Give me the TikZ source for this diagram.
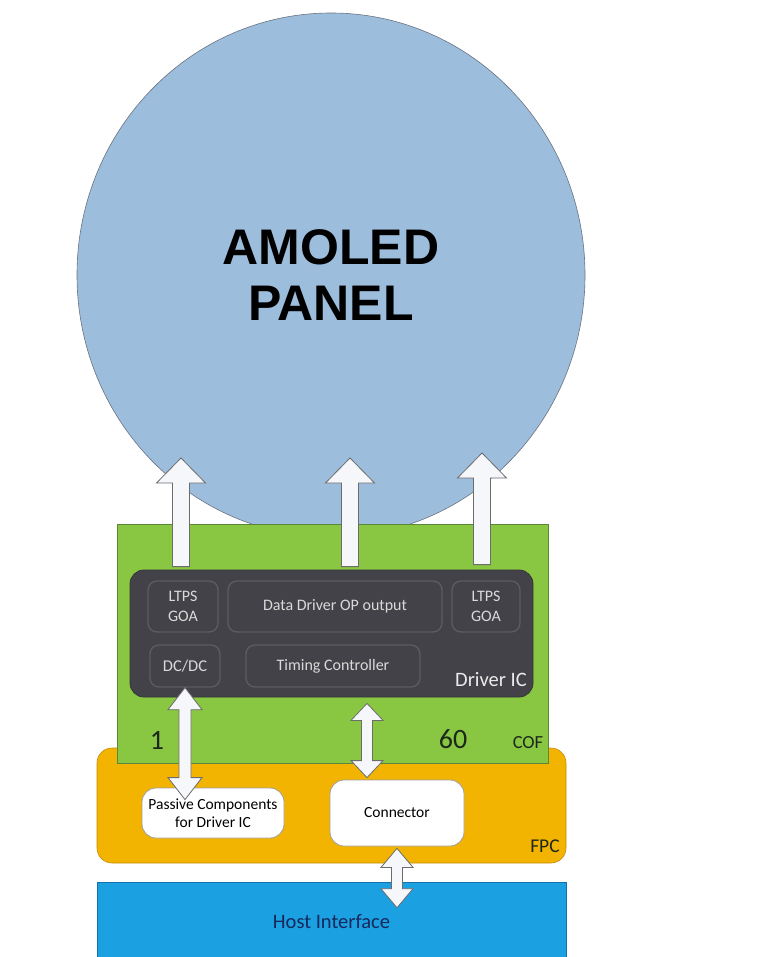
\documentclass[tikz,border=0pt]{standalone}
\usepackage{fontspec}
\setmainfont{Carlito}
\newfontfamily\panelfont{Liberation Sans}
\usetikzlibrary{positioning,shapes.geometric,calc}

\definecolor{panelblue}{RGB}{157,189,220}
\definecolor{panelline}{RGB}{105,115,128}
\definecolor{cofgreen}{RGB}{137,199,66}
\definecolor{cofline}{RGB}{92,135,58}
\definecolor{fpcorange}{RGB}{242,180,0}
\definecolor{fpcline}{RGB}{196,140,10}
\definecolor{hostblue}{RGB}{27,160,225}
\definecolor{hostline}{RGB}{22,112,170}
\definecolor{hosttext}{RGB}{22,40,92}
\definecolor{icgrey}{RGB}{66,66,72}
\definecolor{icline}{RGB}{92,92,98}
\definecolor{iclabel}{RGB}{218,218,218}
\definecolor{labeldark}{RGB}{28,40,28}
\definecolor{arrowwhite}{RGB}{246,247,251}

% vertical block arrow: base, tip
\newcommand{\blockup}[2]{%
  \draw[blockarrow] let \p1=(#1), \p2=(#2) in
    (\x1-8.5pt,\y1) -- (\x1-8.5pt,\y2-25pt) -- (\x1-24.5pt,\y2-25pt) -- (\x1,\y2)
    -- (\x1+24.5pt,\y2-25pt) -- (\x1+8.5pt,\y2-25pt) -- (\x1+8.5pt,\y1) -- cycle;}
% vertical double block arrow: top tip, bottom tip, half shaft, half head, head length
\newcommand{\blockboth}[5]{%
  \draw[blockarrow] let \p1=(#1), \p2=(#2) in
    (\x1,\y1) -- (\x1+#4,\y1-#5) -- (\x1+#3,\y1-#5) -- (\x1+#3,\y2+#5)
    -- (\x1+#4,\y2+#5) -- (\x1,\y2) -- (\x1-#4,\y2+#5) -- (\x1-#3,\y2+#5)
    -- (\x1-#3,\y1-#5) -- (\x1-#4,\y1-#5) -- cycle;}

\begin{document}
\begin{tikzpicture}[
    x=1pt, y=-1pt,
    every node/.style={font=\fontsize{15.5}{18}\selectfont},
    icbox/.style={rounded corners=9pt, fill=icgrey, draw=icline, line width=1.3pt,
        text=iclabel, align=center, inner sep=0pt},
    partbox/.style={rounded corners=14pt, fill=white, draw=gray!75, line width=0.8pt,
        align=center, inner sep=0pt},
    boardlabel/.style={text=labeldark, inner sep=0pt},
    blockarrow/.style={fill=arrowwhite, draw=gray!85!black, line width=0.8pt}
]
\useasboundingbox (0,0) rectangle (767,957);

% Panel
\node[ellipse, fill=panelblue, draw=panelline, line width=0.6pt,
      minimum width=508pt, minimum height=524pt, align=center,
      font=\panelfont\bfseries\fontsize{50}{56}\selectfont] (panel) at (331,275) {AMOLED\\PANEL};

% FPC and host
\node[rounded corners=15pt, fill=fpcorange, draw=fpcline, line width=0.6pt,
      minimum width=469pt, minimum height=115pt] (fpc) at (331.5,805.5) {};
\node[fill=hostblue, draw=hostline, line width=0.6pt, minimum width=469pt,
      minimum height=80pt, text=hosttext, font=\fontsize{20.5}{24}\selectfont] (host) at (331.5,922) {Host Interface};

% COF
\node[fill=cofgreen, draw=cofline, line width=0.6pt,
      minimum width=431pt, minimum height=239pt] (cof) at (332.5,643.5) {};

% Driver IC
\node[rounded corners=14pt, fill=icgrey, draw=icgrey!80!black, line width=0.8pt,
      minimum width=403pt, minimum height=127pt] (ic) at (331.5,633.5) {};
\node[icbox, minimum width=70pt, minimum height=51pt, font=\fontsize{16}{20}\selectfont] (ltpsL) at (183,606.5) {LTPS\\GOA};
\node[icbox, minimum width=214pt, minimum height=51pt, font=\fontsize{16}{18}\selectfont] (ddop) at (335,606.5) {Data Driver OP output};
\node[icbox, minimum width=68pt, minimum height=51pt, font=\fontsize{16}{20}\selectfont] (ltpsR) at (486,606.5) {LTPS\\GOA};
\node[icbox, minimum width=70pt, minimum height=42pt, font=\fontsize{16.5}{18}\selectfont] (dcdc) at (185,666) {DC/DC};
\node[icbox, minimum width=174pt, minimum height=42pt, font=\fontsize{16}{18}\selectfont] (tcon) at (333,666) {Timing Controller};
\node[text=white!92!black, inner sep=0pt, font=\fontsize{20.5}{24}\selectfont] (iclabel) at (491,680) {Driver IC};

% COF labels
\node[boardlabel, font=\fontsize{28}{30}\selectfont] (pinA) at (157,740) {1};
\node[boardlabel, font=\fontsize{28}{30}\selectfont] (pinB) at (453,739) {60};
\node[boardlabel, font=\fontsize{18.5}{20}\selectfont] (coflabel) at (528,743) {COF};

% FPC parts
\node[partbox, minimum width=142pt, minimum height=50pt] (passive) at (213,813) {Passive Components\\for Driver IC};
\node[partbox, minimum width=134pt, minimum height=66pt] (conn) at (397,813) {Connector};
\node[boardlabel, font=\fontsize{19.5}{22}\selectfont] (fpclabel) at (545,846) {FPC};

% Arrows to panel
\coordinate (tipL) at (181,458);
\coordinate (tipM) at (350,458);
\coordinate (tipR) at (482,453);
\blockup{[yshift=3pt]tipL |- ic.north}{tipL}
\blockup{[yshift=3pt]tipM |- ic.north}{tipM}
\blockup{[yshift=5pt]tipR |- ic.north}{tipR}

% Arrows to FPC and host
\coordinate (dcTop) at (dcdc.south);
\coordinate (dcBot) at ([yshift=-12pt]dcdc.south |- passive.north);
\coordinate (icTop) at ([yshift=-6pt]367,0 |- ic.south);
\coordinate (icBot) at ([yshift=2pt]367,0 |- conn.north);
\coordinate (hoTop) at ([yshift=-2pt]conn.south);
\coordinate (hoBot) at ([yshift=-26pt]conn.south |- host.north);
\blockboth{dcTop}{dcBot}{6pt}{17pt}{22pt}
\blockboth{icTop}{icBot}{5.5pt}{16pt}{17pt}
\blockboth{hoTop}{hoBot}{5.5pt}{16pt}{19pt}

\end{tikzpicture}
\end{document}
